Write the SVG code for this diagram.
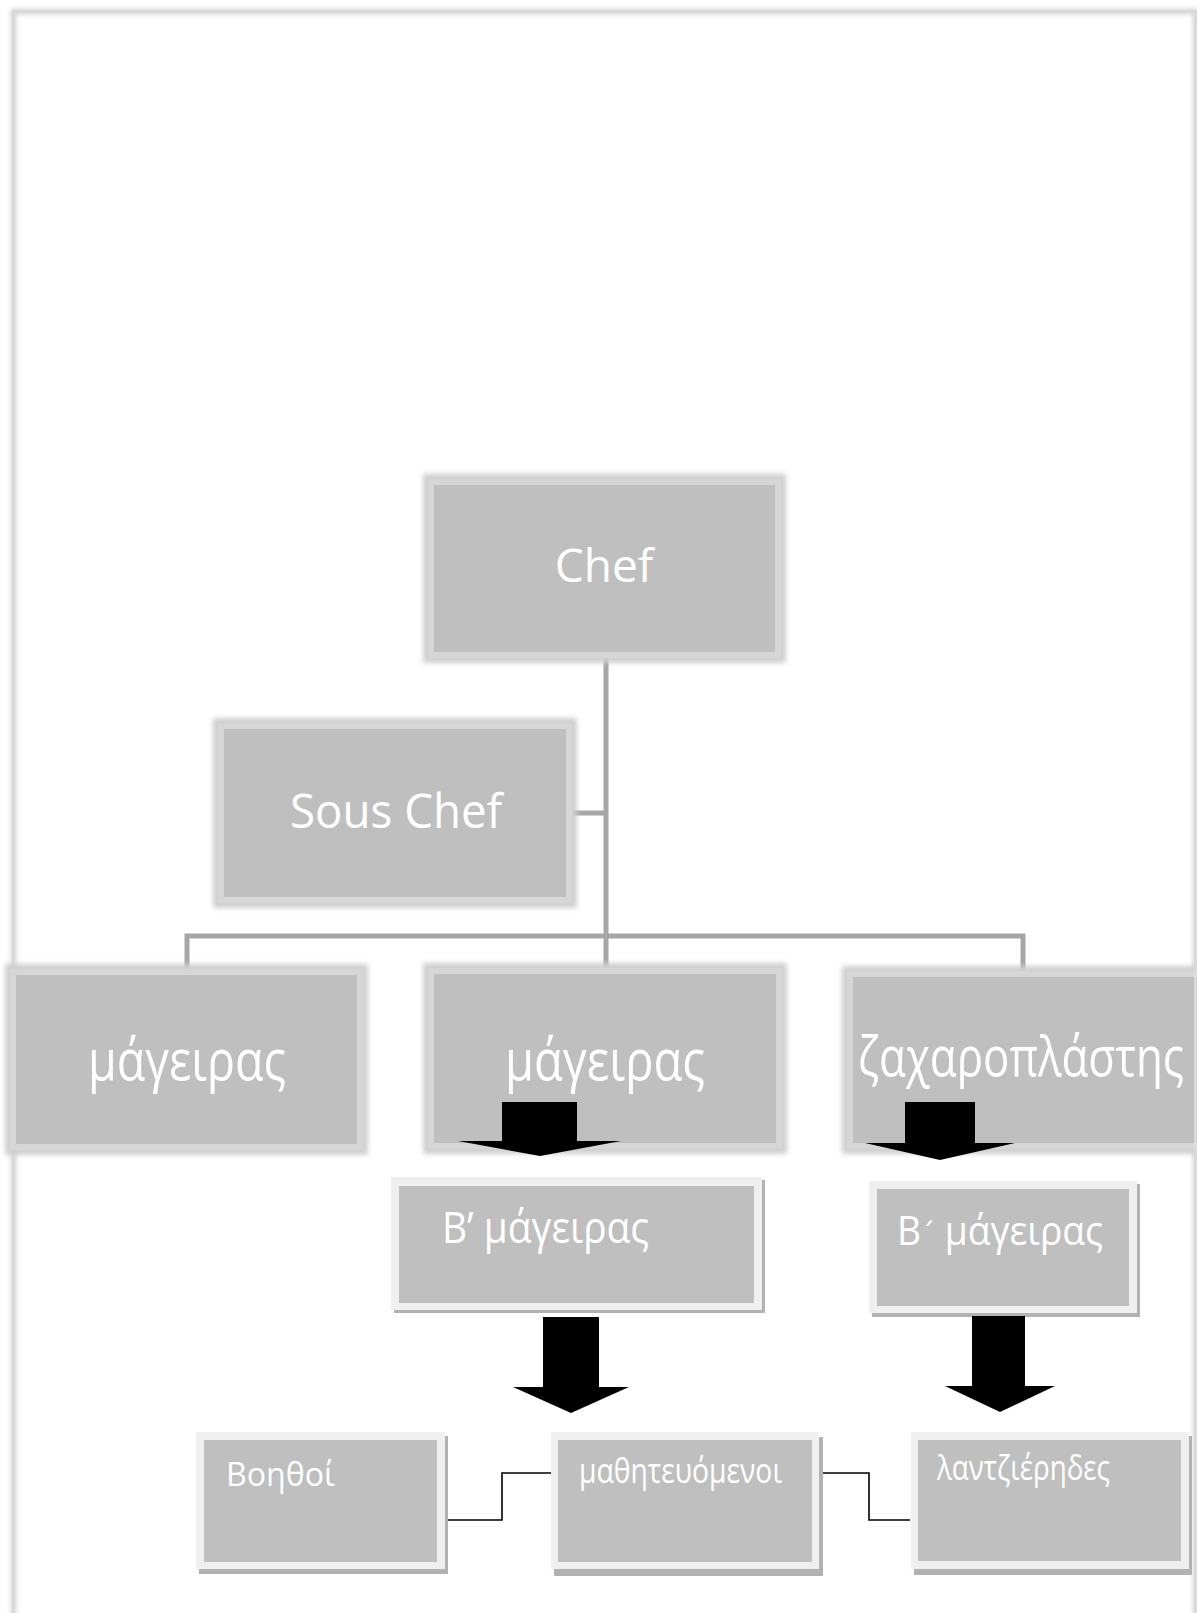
<svg xmlns="http://www.w3.org/2000/svg" width="1197" height="1613" viewBox="0 0 1197 1613">
  <defs>
    <filter id="soft" x="-10%" y="-10%" width="120%" height="120%">
      <feGaussianBlur stdDeviation="2.5"/>
    </filter>
    <clipPath id="page">
      <rect x="0" y="0" width="1194" height="1613"/>
    </clipPath>
    <style>
      .halo { fill: none; stroke: #cfcfcf; stroke-width: 10; filter: url(#soft); }
      .box { fill: #bfbfbf; stroke: #d6d6d6; stroke-width: 6; }
      .shadow { fill: #b2b2b2; }
      .frame2 { fill: #efefef; }
      .fill2 { fill: #bfbfbf; }
      .lbl { fill: #ffffff; font-family: "Open Sans", "Noto Sans", sans-serif; }
      .mid { text-anchor: middle; }
      .bus { fill: none; stroke: #a6a6a6; stroke-width: 5; }
      .link { fill: none; stroke: #000000; stroke-width: 1.6; }
      .arrow { fill: #000000; }
      .edge { fill: none; stroke: #d9d9d9; stroke-width: 3; }
      .edgeblur { fill: none; stroke: #d0d0d0; stroke-width: 5; filter: url(#soft); }
    </style>
  </defs>

  <rect x="0" y="0" width="1197" height="1613" fill="#ffffff"/>

  <!-- page outline -->
  <g id="page-frame">
    <path class="edgeblur" d="M13.5,1620 V11.5 H1195.5 V1620"/>
    <path class="edge" d="M13.5,1620 V11.5 H1195.5 V1620"/>
  </g>

  <!-- grey org-chart connectors -->
  <g id="connectors">
    <path class="bus" d="M606,658 V968"/>
    <path class="bus" d="M572,813 H606"/>
    <path class="bus" d="M187,970 V936 H1023 V972"/>
    <path class="link" d="M446,1520 H502 V1473 H553"/>
    <path class="link" d="M822,1473 H869 V1520 H910"/>
  </g>

  <g id="node-chef">
    <rect class="halo" x="428" y="479" width="353" height="179"/>
    <rect class="box" x="431" y="482" width="347" height="173"/>
    <text class="lbl mid" x="604" y="582" font-size="46">Chef</text>
  </g>

  <g id="node-sous-chef">
    <rect class="halo" x="218" y="723" width="354" height="180"/>
    <rect class="box" x="221" y="726" width="348" height="174"/>
    <text class="lbl mid" x="396" y="828" font-size="47" textLength="212" lengthAdjust="spacingAndGlyphs">Sous Chef</text>
  </g>

  <g id="node-mageiras-1">
    <rect class="halo" x="10" y="969" width="353" height="181"/>
    <rect class="box" x="13" y="972" width="347" height="175"/>
    <text class="lbl mid" x="187" y="1080" font-size="57" textLength="198" lengthAdjust="spacingAndGlyphs">μάγειρας</text>
  </g>

  <g id="node-mageiras-2">
    <rect class="halo" x="428" y="968" width="354" height="181"/>
    <rect class="box" x="431" y="971" width="348" height="175"/>
    <text class="lbl mid" x="605" y="1080" font-size="57" textLength="200" lengthAdjust="spacingAndGlyphs">μάγειρας</text>
  </g>

  <g id="node-zacharoplastis">
    <g clip-path="url(#page)">
      <rect class="halo" x="847" y="971" width="356" height="178"/>
      <rect class="box" x="850" y="974" width="350" height="172"/>
    </g>
    <text class="lbl" x="858" y="1076" font-size="54" textLength="326" lengthAdjust="spacingAndGlyphs">ζαχαροπλάστης</text>
  </g>

  <g id="node-b-mageiras-1">
    <rect class="shadow" x="394" y="1180" width="371" height="133"/>
    <rect class="frame2" x="391" y="1177" width="371" height="133"/>
    <rect class="fill2" x="399" y="1186" width="355" height="117"/>
    <text class="lbl" x="442" y="1243" font-size="43" textLength="207" lengthAdjust="spacingAndGlyphs">Β’ μάγειρας</text>
  </g>

  <g id="node-b-mageiras-2">
    <rect class="shadow" x="872" y="1184" width="268" height="133"/>
    <rect class="frame2" x="869" y="1181" width="268" height="132"/>
    <rect class="fill2" x="877" y="1189" width="252" height="117"/>
    <text class="lbl" x="897" y="1245" font-size="40" textLength="206" lengthAdjust="spacingAndGlyphs">Β<tspan font-family="'DejaVu Sans', sans-serif" font-size="30">΄</tspan> μάγειρας</text>
  </g>

  <g id="node-voithoi">
    <rect class="shadow" x="199" y="1436" width="249" height="138"/>
    <rect class="frame2" x="196" y="1432" width="249" height="137"/>
    <rect class="fill2" x="204" y="1440" width="233" height="122"/>
    <text class="lbl" x="226" y="1486" font-size="33" textLength="109" lengthAdjust="spacingAndGlyphs">Βοηθοί</text>
  </g>

  <g id="node-mathiteuomenoi">
    <rect class="shadow" x="554" y="1437" width="269" height="139"/>
    <rect class="frame2" x="551" y="1432" width="268" height="137"/>
    <rect class="fill2" x="558" y="1440" width="254" height="122"/>
    <text class="lbl" x="579" y="1483" font-size="35" textLength="203" lengthAdjust="spacingAndGlyphs">μαθητευόμενοι</text>
  </g>

  <g id="node-lantzierides">
    <rect class="shadow" x="914" y="1436" width="278" height="139"/>
    <rect class="frame2" x="911" y="1432" width="278" height="137"/>
    <rect class="fill2" x="918" y="1440" width="263" height="121"/>
    <text class="lbl" x="937" y="1480" font-size="35" textLength="173" lengthAdjust="spacingAndGlyphs">λαντζιέρηδες</text>
  </g>

  <!-- block arrows pointing down -->
  <g id="arrows">
    <polygon class="arrow" points="502,1102 577,1102 577,1141 621,1141 540,1156 458,1141 502,1141"/>
    <polygon class="arrow" points="905,1102 975,1102 975,1143 1015,1143 940,1160 865,1143 905,1143"/>
    <polygon class="arrow" points="543,1317 599,1317 599,1387 629,1387 571,1413 513,1387 543,1387"/>
    <polygon class="arrow" points="972,1316 1025,1316 1025,1386 1055,1386 1000,1412 945,1386 972,1386"/>
  </g>
</svg>
